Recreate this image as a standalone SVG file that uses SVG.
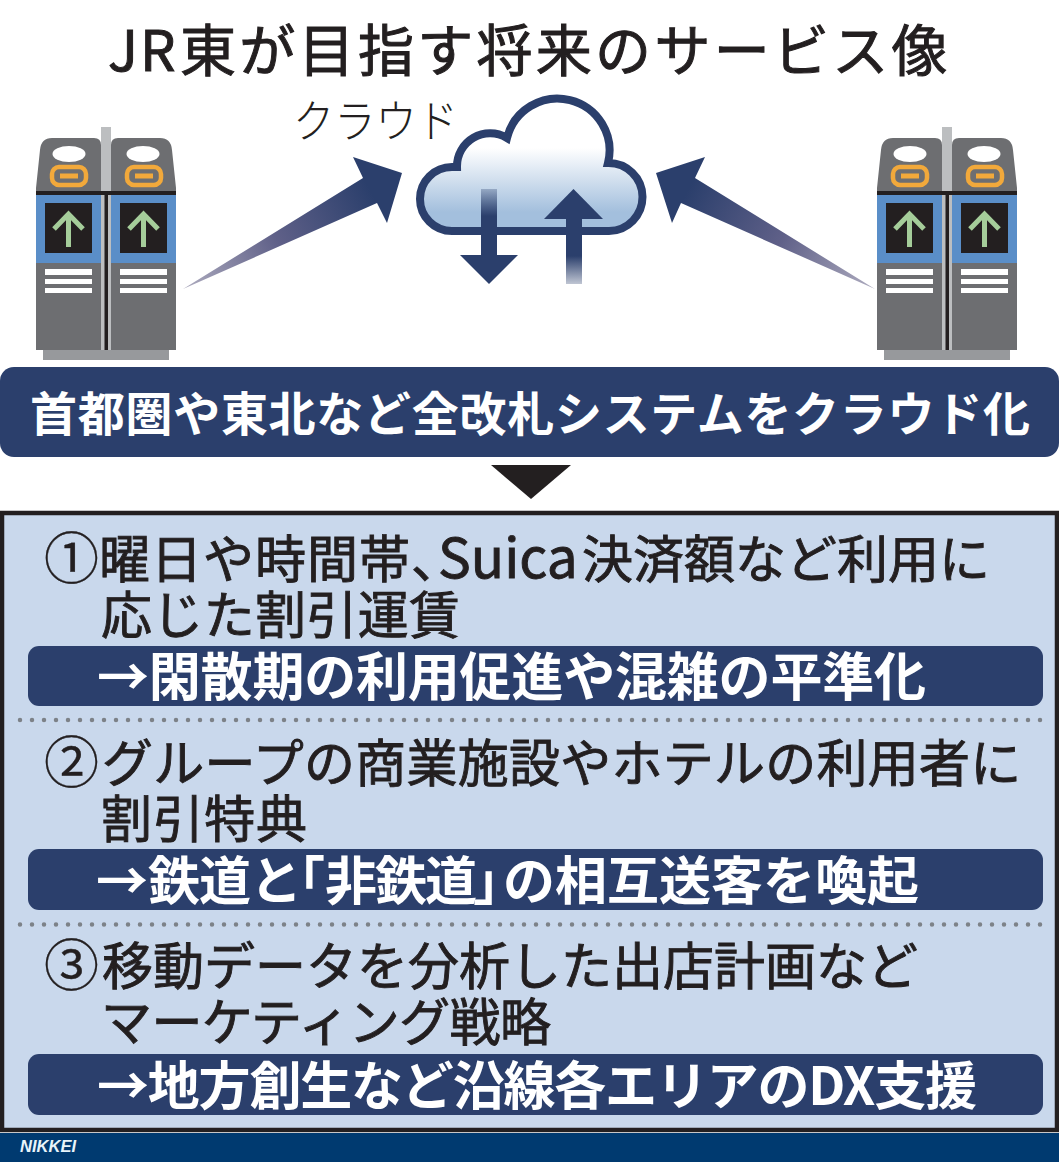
<svg xmlns="http://www.w3.org/2000/svg" width="1059" height="1162" viewBox="0 0 1059 1162">
<style>
text{font-family:"Noto Sans CJK JP","Noto Sans",sans-serif;}
.h{fill:#231f20;stroke:#231f20;stroke-width:.9px;font-size:51px;}
.w{fill:#fff;font-size:52px;font-weight:700;}
.bar{fill:#2b3f6c;}
.dots{stroke:#7d8288;stroke-width:4.5;stroke-linecap:round;stroke-dasharray:0 12;fill:none;}
.gray{fill:#6d6e71;}
.post{fill:#bcbec0;}
.blue{fill:#5a8ec8;}
.scr{fill:#231f20;}
.grn{stroke:#a5cd9a;stroke-width:5;fill:none;}
.st{fill:#fff;}
.org{fill:none;stroke:#f2a93b;stroke-width:4.5;}
.navy{fill:#2b3f6c;}
.n{font-size:55px;stroke-width:.3px;}
.ht{font-feature-settings:"halt";}
</style>
<defs>
<linearGradient id="ga" gradientUnits="userSpaceOnUse" x1="183" y1="289" x2="370" y2="190"><stop offset="0" stop-color="#aeacbf"/><stop offset=".5" stop-color="#5f6088"/><stop offset="1" stop-color="#2b3f6c"/></linearGradient>
<linearGradient id="gb" gradientUnits="userSpaceOnUse" x1="875" y1="289" x2="688" y2="190"><stop offset="0" stop-color="#aeacbf"/><stop offset=".5" stop-color="#5f6088"/><stop offset="1" stop-color="#2b3f6c"/></linearGradient>
<linearGradient id="gc" gradientUnits="userSpaceOnUse" x1="0" y1="148" x2="0" y2="212"><stop offset="0" stop-color="#fff"/><stop offset="1" stop-color="#a3bfdd"/></linearGradient>
<linearGradient id="gd" gradientUnits="userSpaceOnUse" x1="0" y1="189" x2="0" y2="216"><stop offset="0" stop-color="#2b3f6c" stop-opacity=".3"/><stop offset="1" stop-color="#2b3f6c"/></linearGradient>
<linearGradient id="ge" gradientUnits="userSpaceOnUse" x1="0" y1="284" x2="0" y2="256"><stop offset="0" stop-color="#2b3f6c" stop-opacity=".3"/><stop offset="1" stop-color="#2b3f6c"/></linearGradient>
<g id="gate">
<rect x="43" y="350" width="126" height="10" fill="#97999c"/>
<rect class="post" x="101" y="127" width="10" height="223"/>
<path class="gray" d="M36 350V188L40 150Q41 138 52 138H94Q101 138 101 145V350Z"/>
<path class="gray" d="M176 350V188L172 150Q171 138 160 138H118Q111 138 111 145V350Z"/>
<rect class="scr" x="36" y="191" width="140" height="4"/>
<rect class="blue" x="36" y="195" width="65" height="68"/>
<rect class="blue" x="111" y="195" width="65" height="68"/>
<rect class="scr" x="104.500" y="195" width="3.500" height="155"/>
<rect class="scr" x="45" y="203" width="47" height="50"/>
<rect class="scr" x="120" y="203" width="47" height="50"/>
<path class="grn" d="M68.500 247V214M54 229L68.500 214L83 229"/>
<path class="grn" d="M143.500 247V214M129 229L143.500 214L158 229"/>
<path class="st" d="M45 269h47v6H45zM45 279h47v5H45zM45 288h47v5H45zM120 269h47v6h-47zM120 279h47v5h-47zM120 288h47v5h-47z"/>
<ellipse class="st" cx="69" cy="154" rx="16.500" ry="8"/>
<ellipse class="st" cx="143" cy="154" rx="16.500" ry="8"/>
<rect class="org" x="52" y="167" width="34" height="18" rx="7"/>
<rect class="org" x="127" y="167" width="34" height="18" rx="7"/>
<rect x="60" y="173.500" width="18" height="5" fill="#f2a93b"/>
<rect x="135" y="173.500" width="18" height="5" fill="#f2a93b"/>
</g>
</defs>
<rect width="1059" height="1162" fill="#fff"/>
<text id="title" y="71" font-size="56" fill="#231f20" stroke="#231f20" stroke-width="1"><tspan x="108 140">JR</tspan><tspan x="180" letter-spacing="3.300">東が目指す将来のサービス像</tspan></text>
<g id="gate-left"><use href="#gate"/></g>
<g id="gate-right"><use href="#gate" x="841"/></g>
<g id="cloud">
<text x="293" y="138" font-size="45" fill="#231f20" font-weight="300" textLength="165" lengthAdjust="spacingAndGlyphs">クラウド</text>
<path d="M452 231H609A34 34 0 0 0 608 163A52 52 0 0 0 507 138A33 33 0 0 0 457 167H452A32 32 0 0 0 452 231Z" fill="url(#gc)" stroke="#2b3f6c" stroke-width="8"/>
<path fill="url(#gd)" d="M481 189h16v66h-16z"/>
<path class="navy" d="M460 255H518L489 284Z"/>
<path class="navy" d="M544 219H603L573.500 189Z"/>
<path fill="url(#ge)" d="M566 219h16v65h-16z"/>
</g>
<g id="connectors">
<path fill="url(#ga)" d="M183 289L363 178L353 157L402 173L387 223L377 203Z"/>
<path fill="url(#gb)" d="M875 289L695 178L705 157L656 173L672 223L681 203Z"/>
<path fill="#231f20" d="M491 465H571L531 499Z"/>
</g>
<g id="banner">
<rect class="bar" x="0" y="367" width="1059" height="90" rx="14"/>
<text x="30" y="431" class="w" style="font-size:47px" textLength="1000" lengthAdjust="spacing">首都圏や東北など全改札システムをクラウド化</text>
</g>
<g id="panel">
<rect x="2" y="513" width="1055" height="617" fill="#c9d8ec" stroke="#231f20" stroke-width="4.500"/>
<path class="dots" d="M20 720H1045"/>
<path class="dots" d="M20 924.500H1045"/>
</g>
<g id="item1">
<text y="578" class="h"><tspan x="44" class="n">①</tspan><tspan x="99" letter-spacing="1">曜日や時間帯</tspan><tspan class="ht" x="411">、</tspan><tspan x="438" style="font-size:55px">Suica</tspan><tspan x="582">決済額など利用に</tspan></text>
<text x="101" y="634" class="h" textLength="359" lengthAdjust="spacing">応じた割引運賃</text>
<rect class="bar" x="28" y="646" width="1015" height="60" rx="11"/>
<text x="97" y="696" class="w" textLength="829" lengthAdjust="spacing">→閑散期の利用促進や混雑の平準化</text>
</g>
<g id="item2">
<text y="782" class="h"><tspan x="44" class="n">②</tspan><tspan x="102" letter-spacing=".25">グループの商業施設やホテルの利用者に</tspan></text>
<text x="101" y="838" class="h" textLength="206" lengthAdjust="spacing">割引特典</text>
<rect class="bar" x="28" y="849" width="1015" height="61" rx="11"/>
<text y="900" class="w"><tspan x="96">→</tspan><tspan x="148" letter-spacing="-1">鉄道と</tspan><tspan class="ht" x="299">「</tspan><tspan x="325" letter-spacing="-2">非鉄道</tspan><tspan class="ht" x="473">」</tspan><tspan x="503">の</tspan><tspan x="555">相互送客を喚起</tspan></text>
</g>
<g id="item3">
<text y="985" class="h"><tspan x="44" class="n">③</tspan><tspan x="102">移動データを分析した出店計画など</tspan></text>
<text x="101" y="1041" class="h" textLength="450" lengthAdjust="spacing">マーケティング戦略</text>
<rect class="bar" x="28" y="1054" width="1015" height="61" rx="11"/>
<text x="97" y="1105" class="w" textLength="880" lengthAdjust="spacing">→地方創生など沿線各エリアのDX支援</text>
</g>
<g id="footer">
<rect x="0" y="1133" width="1059" height="29" fill="#003a70"/>
<text x="20" y="1152" font-size="16" font-weight="700" font-style="italic" fill="#e8f4fa" textLength="56" lengthAdjust="spacingAndGlyphs" style="font-family:'Liberation Sans',sans-serif">NIKKEI</text>
</g>
</svg>
